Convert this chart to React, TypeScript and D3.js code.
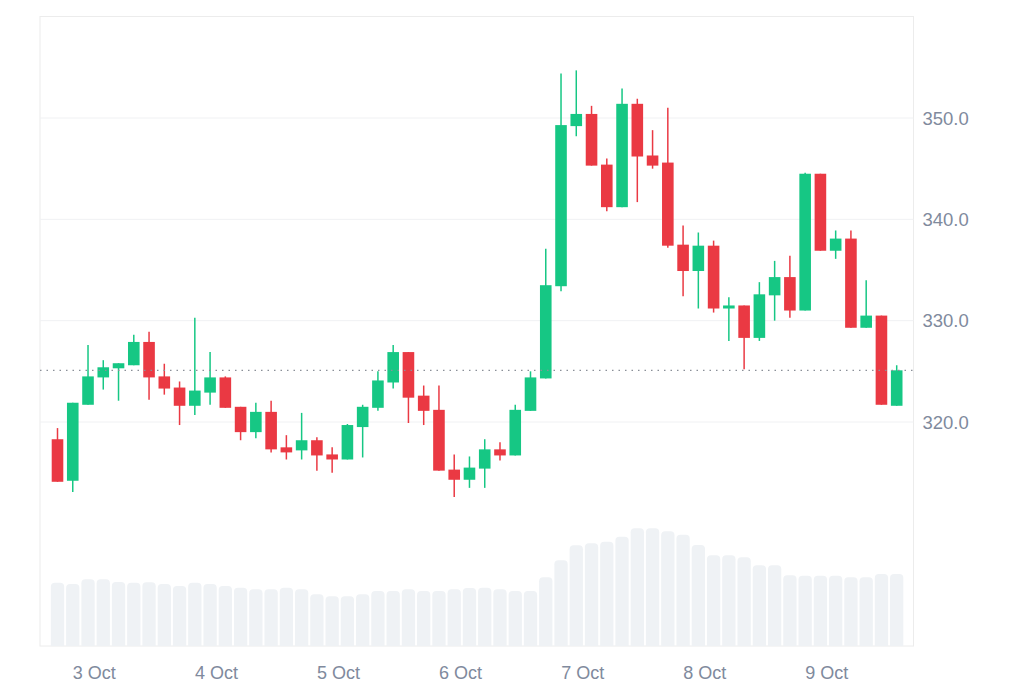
import { useEffect, useRef } from 'react';
import * as d3 from 'd3';

// 3-hour candles, 2 Oct 16:45 UTC -> 9 Oct
const START = Date.UTC(2023, 9, 2, 16, 45);
const STEP_MS = 3 * 60 * 60 * 1000;

const opens = [
  318.3, 314.2, 321.7, 324.4, 325.3, 325.6, 327.9, 324.5, 323.4, 321.6, 322.9, 324.4, 321.5, 319.0,
  321.0, 317.5, 317.2, 318.2, 316.8, 316.3, 319.5, 321.4, 323.9, 326.9, 322.6, 321.2, 315.3, 314.3,
  315.4, 317.3, 316.7, 321.1, 324.3, 333.4, 349.2, 350.4, 345.4, 341.2, 351.4, 346.3, 345.6, 337.5,
  334.9, 337.4, 331.2, 331.5, 328.3, 332.5, 334.3, 331.0, 344.5, 336.9, 338.1, 329.3, 330.5, 321.6,
];
const highs = [
  319.4, 321.9, 327.6, 326.1, 325.8, 328.6, 328.9, 325.75, 324.0, 330.3, 326.9, 324.5, 321.5, 321.9,
  322.1, 318.7, 320.9, 318.5, 317.5, 319.8, 321.7, 325.0, 327.6, 326.9, 323.6, 323.6, 316.8, 316.6,
  318.3, 318.0, 321.7, 325.0, 337.1, 354.4, 354.7, 351.2, 346.0, 352.9, 351.9, 348.8, 351.0, 339.4,
  338.7, 337.9, 332.3, 331.5, 333.8, 335.9, 336.4, 344.6, 344.5, 338.9, 338.9, 334.0, 330.5, 325.6,
];
const lows = [
  314.1, 313.1, 321.7, 323.2, 322.1, 325.6, 322.2, 322.7, 319.7, 320.7, 321.7, 321.4, 318.2, 318.4,
  317.0, 316.3, 316.3, 315.2, 315.0, 316.3, 316.5, 321.1, 323.3, 319.9, 319.7, 315.2, 312.6, 313.5,
  313.5, 316.2, 316.7, 321.1, 324.3, 332.9, 348.2, 345.3, 340.8, 341.2, 341.7, 345.0, 337.2, 332.4,
  331.2, 330.8, 328.0, 325.2, 328.0, 330.0, 330.3, 331.0, 336.9, 336.1, 329.3, 329.3, 321.7, 321.6,
];
const closes = [
  314.1, 321.9, 324.5, 325.4, 325.8, 327.9, 324.4, 323.3, 321.6, 323.1, 324.4, 321.4, 319.0, 321.0,
  317.3, 317.0, 318.2, 316.7, 316.3, 319.7, 321.5, 324.1, 326.9, 322.4, 321.1, 315.2, 314.3, 315.5,
  317.3, 316.7, 321.2, 324.4, 333.5, 349.3, 350.4, 345.3, 341.2, 351.4, 346.2, 345.3, 337.4, 334.9,
  337.4, 331.2, 331.5, 328.3, 332.6, 334.3, 331.0, 344.5, 336.9, 338.1, 329.3, 330.5, 321.7, 325.1,
];
const volumes = [
  63.3, 62, 66.7, 66.7, 64, 63.3, 63.7, 62, 60, 63.3, 62, 60, 58.3, 56.7,
  56.7, 58.3, 56.7, 51.7, 49.7, 49.7, 51.7, 55, 55, 56.7, 55, 55, 56.7, 58,
  58.3, 56.7, 55, 55, 68.7, 85.7, 100.7, 102.7, 104.3, 109.3, 117.7, 117.7, 114.7, 111.3,
  101, 90.7, 90.7, 88.7, 80.7, 80.7, 70.7, 70.3, 70.3, 70.3, 68.7, 68.7, 72, 72,
];
const priceTicks = [320, 330, 340, 350];

const UP = '#16c784';
const DOWN = '#ea3943';
const TEXT = '#808a9d';
const FONT = '"Liberation Sans", Arial, sans-serif';

export default function App() {
  const svgRef = useRef<SVGSVGElement>(null);
  const width = 1024;
  const height = 683;

  useEffect(() => {
    if (!svgRef.current) return;
    const svg = d3.select(svgRef.current);
    svg.selectAll('*').remove();

    const plot = { left: 40, right: 913.5, top: 16.5, bottom: 646 };
    const times = opens.map((_, i) => new Date(START + i * STEP_MS));

    const x = d3.scaleUtc()
      .domain([times[0], times[times.length - 1]])
      .range([57.5, 896.7]);
    const y = d3.scaleLinear().domain([320, 350]).range([422, 118]);
    const yVol = d3.scaleLinear().domain([0, 130]).range([plot.bottom, plot.bottom - 130]);

    const candleW = 11.6;
    const volW = 13.3;

    // border
    svg.append('rect')
      .attr('x', plot.left)
      .attr('y', plot.top)
      .attr('width', plot.right - plot.left)
      .attr('height', plot.bottom - plot.top)
      .attr('fill', 'none')
      .attr('stroke', '#ececec')
      .attr('stroke-width', 1);

    // grid
    svg.append('g')
      .selectAll('line')
      .data(priceTicks)
      .enter()
      .append('line')
      .attr('x1', plot.left)
      .attr('x2', plot.right)
      .attr('y1', d => y(d))
      .attr('y2', d => y(d))
      .attr('stroke', '#f0f1f3')
      .attr('stroke-width', 1);

    // volume bars with rounded tops
    svg.append('g')
      .selectAll('path')
      .data(volumes)
      .enter()
      .append('path')
      .attr('fill', '#eff2f5')
      .attr('d', (v, i) => {
        const cx = x(times[i]);
        const x0 = cx - volW / 2;
        const x1 = cx + volW / 2;
        const top = yVol(v);
        const r = 4;
        const b = plot.bottom;
        return `M${x0},${b}V${top + r}Q${x0},${top} ${x0 + r},${top}H${x1 - r}Q${x1},${top} ${x1},${top + r}V${b}Z`;
      });

    // candles
    const candles = svg.append('g')
      .selectAll('g')
      .data(opens.map((o, i) => ({ o, h: highs[i], l: lows[i], c: closes[i], t: times[i] })))
      .enter()
      .append('g');

    candles.append('line')
      .attr('x1', d => x(d.t))
      .attr('x2', d => x(d.t))
      .attr('y1', d => y(d.h))
      .attr('y2', d => y(d.l))
      .attr('stroke', d => (d.c >= d.o ? UP : DOWN))
      .attr('stroke-width', 1.5);

    candles.append('rect')
      .attr('x', d => x(d.t) - candleW / 2)
      .attr('y', d => y(Math.max(d.o, d.c)))
      .attr('width', candleW)
      .attr('height', d => Math.max(1.5, Math.abs(y(d.o) - y(d.c))))
      .attr('fill', d => (d.c >= d.o ? UP : DOWN));

    // last price line
    const last = closes[closes.length - 1];
    svg.append('line')
      .attr('x1', plot.left)
      .attr('x2', plot.right)
      .attr('y1', y(last))
      .attr('y2', y(last))
      .attr('stroke', '#8a8f98')
      .attr('stroke-width', 1.3)
      .attr('stroke-dasharray', '1.5 5');

    // y labels
    svg.append('g')
      .selectAll('text')
      .data(priceTicks)
      .enter()
      .append('text')
      .attr('x', 922.5)
      .attr('y', d => y(d))
      .attr('dy', '0.36em')
      .style('font-family', FONT)
      .style('font-size', '18.5px')
      .style('fill', TEXT)
      .text(d => d3.format('.1f')(d));

    // x labels
    const days = d3.utcDay.range(new Date(Date.UTC(2023, 9, 3)), new Date(Date.UTC(2023, 9, 10)));
    svg.append('g')
      .selectAll('text')
      .data(days)
      .enter()
      .append('text')
      .attr('x', d => x(d))
      .attr('y', 673)
      .attr('dy', '0.36em')
      .attr('text-anchor', 'middle')
      .style('font-family', FONT)
      .style('font-size', '18px')
      .style('fill', TEXT)
      .text(d => d3.utcFormat('%-d %b')(d));
  }, []);

  return (
    <svg
      ref={svgRef}
      width={width}
      height={height}
      viewBox={`0 0 ${width} ${height}`}
      style={{ position: 'absolute', left: 0, top: 0, background: '#fff' }}
    />
  );
}
